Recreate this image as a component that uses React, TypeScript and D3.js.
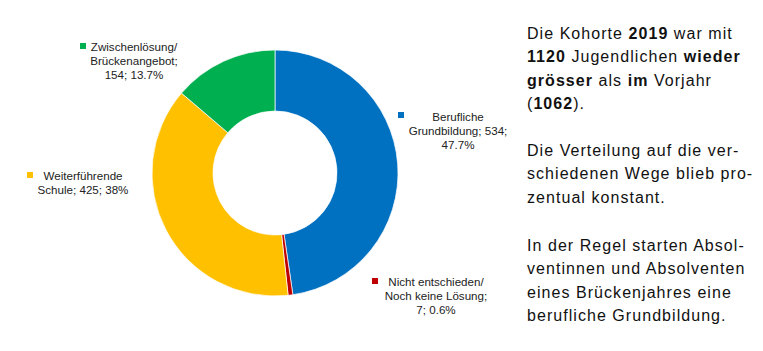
import React from 'react';
import * as d3 from 'd3';

const categories = ['Berufliche Grundbildung', 'Nicht entschieden', 'Weiterführende Schule', 'Zwischenlösung'];
const values = [534, 7, 425, 154];
const colors = ['#0070C0', '#C00000', '#FFC000', '#00B050'];

// label lines, one block per slice
const labelLines = [
  ['Berufliche', 'Grundbildung; 534;', '47.7%'],
  ['Nicht entschieden/', 'Noch keine Lösung;', '7; 0.6%'],
  ['Weiterführende', 'Schule; 425; 38%'],
  ['Zwischenlösung/', 'Brückenangebot;', '154; 13.7%'],
];
// label placement: text center x, first line y, key square x, key y
const labelPos = [
  { x: 458, y: 121, kx: 398, ky: 112 },
  { x: 436, y: 286, kx: 372, ky: 278 },
  { x: 83, y: 180, kx: 27, ky: 172 },
  { x: 134, y: 51, kx: 80, ky: 43 },
];

type Run = { t: string; b?: boolean };
const paragraphs: Run[][][] = [
  [
    [{ t: 'Die Kohorte ' }, { t: '2019', b: true }, { t: ' war mit' }],
    [{ t: '1120', b: true }, { t: ' Jugendlichen ' }, { t: 'wieder', b: true }],
    [{ t: 'grösser', b: true }, { t: ' als ' }, { t: 'im', b: true }, { t: ' Vorjahr' }],
    [{ t: '(' }, { t: '1062', b: true }, { t: ').' }],
  ],
  [
    [{ t: 'Die Verteilung auf die ver-' }],
    [{ t: 'schiedenen Wege blieb pro-' }],
    [{ t: 'zentual konstant.' }],
  ],
  [
    [{ t: 'In der Regel starten Absol-' }],
    [{ t: 'ventinnen und Absolventen' }],
    [{ t: 'eines Brückenjahres eine' }],
    [{ t: 'berufliche Grundbildung.' }],
  ],
];
const paraTop = [39, 156, 251];

export default function App() {
  const width = 763;
  const height = 351;
  const cx = 275;
  const cy = 173;
  const outer = 123;
  const inner = 62;

  const pie = d3.pie<number>().sort(null).value(d => d)(values);
  const arc = d3.arc<d3.PieArcDatum<number>>().innerRadius(inner).outerRadius(outer);

  return (
    <svg width={width} height={height} style={{ position: 'absolute', left: 0, top: 0, background: '#fff' }}
      fontFamily="'Liberation Sans', Arial, sans-serif">
      <g transform={`translate(${cx},${cy})`}>
        {pie.map((p, i) => (
          <path key={categories[i]} d={arc(p) || ''} fill={colors[i]} stroke="#fff" strokeWidth={0.7} />
        ))}
      </g>
      {labelLines.map((lines, i) => (
        <g key={categories[i]}>
          <rect x={labelPos[i].kx} y={labelPos[i].ky} width={6} height={6} fill={colors[i]} />
          <text textAnchor="middle" fontSize={11.6} fill="#222">
            {lines.map((l, j) => (
              <tspan key={j} x={labelPos[i].x} y={labelPos[i].y + j * 14}>{l}</tspan>
            ))}
          </text>
        </g>
      ))}
      <g fontSize={16} fill="#111">
        {paragraphs.map((para, pi) =>
          para.map((line, li) => (
            <text key={`${pi}-${li}`} x={527} y={paraTop[pi] + li * 23.3} letterSpacing={1.05}>
              {line.map((r, ri) => (
                <tspan key={ri} fontWeight={r.b ? 'bold' : 'normal'}>{r.t}</tspan>
              ))}
            </text>
          ))
        )}
      </g>
    </svg>
  );
}
